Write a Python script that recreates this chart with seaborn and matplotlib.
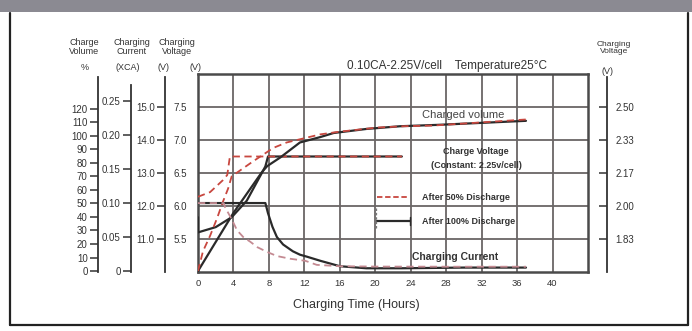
import matplotlib
matplotlib.use("Agg")
import matplotlib.pyplot as plt
import seaborn as sns
from matplotlib.patches import Rectangle
from matplotlib.lines import Line2D

# ---------------- data ----------------
hour_ticks = [0, 4, 8, 12, 16, 20, 24, 28, 32, 36, 40]
volume_ticks = [0, 10, 20, 30, 40, 50, 60, 70, 80, 90, 100, 110, 120]
current_ticks = [0, 0.05, 0.10, 0.15, 0.20, 0.25]
current_labels = ["0", "0.05", "0.10", "0.15", "0.20", "0.25"]
v12_ticks = [11.0, 12.0, 13.0, 14.0, 15.0]
v6_ticks = [5.5, 6.0, 6.5, 7.0, 7.5]
vcell_labels = ["1.83", "2.00", "2.17", "2.33", "2.50"]

# charged volume (%)
q100_t = [0, 4, 7.2, 7.8, 9.3, 11.5, 13.8, 15.3, 19, 22.8, 27, 32, 37]
q100 = [0, 43, 73, 77.5, 84, 95, 99, 102, 105, 107, 108, 109.5, 111]
q50_t = [0, 0.56, 1.36, 2.15, 2.8, 3.4, 3.8, 6.2, 8.5, 10, 13.8, 16, 20.2, 23.2, 26.5, 37]
q50 = [0, 14.6, 26, 39, 51, 61, 70, 81, 91, 95, 101, 103, 106, 107, 107.5, 112]

# charging voltage (V, 6V battery)
v100_t = [0, 0, 2, 3.8, 5.5, 7.2, 7.6, 7.9, 23]
v100 = [5.83, 5.6, 5.68, 5.83, 6.08, 6.5, 6.6, 6.75, 6.75]
v50_t = [0, 1.36, 2.8, 3.3, 3.6, 23]
v50 = [6.14, 6.21, 6.39, 6.47, 6.75, 6.75]

# charging current (CA)
i100_t = [0, 7.6, 7.9, 8.4, 8.9, 9.6, 10.7, 11.5, 12.3, 13.8, 16, 19, 23, 30, 37]
i100 = [0.1, 0.1, 0.085, 0.065, 0.050, 0.039, 0.029, 0.024, 0.021, 0.015, 0.007, 0.004, 0.004, 0.005, 0.005]
i50_t = [0, 2.9, 3.05, 3.85, 4.4, 5.1, 5.9, 6.7, 7.8, 8.9, 10.4, 12.1, 13.4, 16, 20, 28, 37]
i50 = [0.1, 0.1, 0.094, 0.075, 0.060, 0.050, 0.043, 0.035, 0.028, 0.022, 0.018, 0.015, 0.009, 0.007, 0.0065, 0.0063, 0.0063]

# ---------------- figure ----------------
W, H = 692, 331
sns.set_theme(style="white")
plt.rcParams["font.family"] = ["Liberation Sans", "DejaVu Sans"]
fig = plt.figure(figsize=(W / 100, H / 100), dpi=100, facecolor="white")


def fx(px):
    return px / W


def fy(py):
    return 1 - py / H


TXT = "#333333"
GRID = "#6a6666"
BLACK = "#2a2a2a"
RED = "#c8473f"
PINK = "#c48a92"

# frame decoration
fig.patches.append(Rectangle((0, fy(12)), 1, 12 / H, transform=fig.transFigure,
                             facecolor="#8b8a92", edgecolor="none", zorder=0))
for xs, ys in [([10, 10], [13, 325]), ([10, 688], [325, 325]), ([688, 688], [13, 325])]:
    fig.add_artist(Line2D([fx(x) for x in xs], [fy(y) for y in ys],
                          transform=fig.transFigure, color="#222222", lw=1.6))

# main axes (6 V scale)
L, R, T, B = 198, 588, 74, 272
ax = fig.add_axes([fx(L), fy(B), (R - L) / W, (B - T) / H])
ax.set_xlim(0, 44)
ax.set_ylim(5.0, 8.0)
ax.set_xticks(hour_ticks)
ax.set_xticklabels([str(h) for h in hour_ticks])
ax.set_yticks(v6_ticks)
ax.set_yticklabels([f"{v:.1f}" for v in v6_ticks])
ax.tick_params(axis="x", length=0, pad=5, labelsize=6.8, colors=TXT)
ax.tick_params(axis="y", length=0, pad=8, labelsize=7, colors=TXT)
ax.grid(True, color=GRID, lw=1.3)
for s in ax.spines.values():
    s.set_color("#4a4a4a")
    s.set_linewidth(1.8)
ax.set_facecolor("white")

# hidden twin axes for volume and current
ax_q = ax.twinx()
ax_q.set_ylim(-0.7, 145.6)
ax_i = ax.twinx()
ax_i.set_ylim(-0.0015, 0.29)
for a in (ax_q, ax_i):
    a.set_yticks([])
    for s in a.spines.values():
        s.set_visible(False)

# curves
sns.lineplot(x=v50_t, y=v50, ax=ax, color=RED, lw=1.3, linestyle=(0, (4, 2.5)),
             estimator=None, sort=False, zorder=4)
sns.lineplot(x=v100_t, y=v100, ax=ax, color=BLACK, lw=1.6,
             estimator=None, sort=False, zorder=3)
sns.lineplot(x=q100_t, y=q100, ax=ax_q, color=BLACK, lw=1.6,
             estimator=None, sort=False, zorder=3)
sns.lineplot(x=q50_t, y=q50, ax=ax_q, color=RED, lw=1.3, linestyle=(0, (4, 2.5)),
             estimator=None, sort=False, zorder=4)
sns.lineplot(x=i100_t, y=i100, ax=ax_i, color=BLACK, lw=1.6,
             estimator=None, sort=False, zorder=3)
sns.lineplot(x=i50_t, y=i50, ax=ax_i, color=PINK, lw=1.3, linestyle=(0, (4, 2.5)),
             estimator=None, sort=False, zorder=4)
ax.set_xlim(0, 44)
ax.set_ylim(5.0, 8.0)


def side_axis(xpx, ylim, ticks, labels, bounds, side="left"):
    a = fig.add_axes([fx(xpx), fy(B), 0.0001, (B - T) / H])
    a.set_ylim(*ylim)
    a.patch.set_visible(False)
    a.xaxis.set_visible(False)
    for k, s in a.spines.items():
        s.set_visible(k == side)
    a.spines[side].set_color("#333333")
    a.spines[side].set_linewidth(1.3)
    a.spines[side].set_bounds(*bounds)
    a.set_yticks(ticks)
    a.set_yticklabels(labels)
    if side == "left":
        a.tick_params(axis="y", direction="out", length=6, width=1.1, pad=1.5,
                      labelsize=7, colors=TXT, left=True, right=False)
    else:
        a.yaxis.tick_right()
        a.tick_params(axis="y", direction="in", length=6, width=1.1, pad=6,
                      labelsize=7, colors=TXT, left=False, right=True)
    return a


side_axis(98, (-0.7, 145.6), volume_ticks, [str(v) for v in volume_ticks], (-0.7, 143.4))
side_axis(131, (-0.0015, 0.29), current_ticks, current_labels, (-0.0015, 0.2735))
side_axis(165, (10, 16), v12_ticks, [f"{v:.1f}" for v in v12_ticks], (10, 15.9))
side_axis(607, (5 / 3, 8 / 3), [v / 3 for v in v6_ticks], vcell_labels, (5 / 3, 2.652), side="right")


def ftext(px, py, s, size=6.5, ha="center", weight="normal", color=TXT, **kw):
    fig.text(fx(px), fy(py), s, ha=ha, va="center", fontsize=size,
             fontweight=weight, color=color, **kw)


# headers
ftext(84, 47, "Charge\nVolume", linespacing=1.05)
ftext(132, 47, "Charging\nCurrent", linespacing=1.05)
ftext(177, 47, "Charging\nVoltage", linespacing=1.05)
ftext(85, 68, "%")
ftext(128, 68, "(XCA)")
ftext(163, 68, "(V)")
ftext(195, 68, "(V)")
ftext(614, 48, "Charging\nVoltage", size=6, linespacing=1.05)
ftext(607, 71, "(V)")

ftext(347, 66, "0.10CA-2.25V/cell    Temperature25°C", size=8.5, ha="left")
ftext(356, 305, "Charging Time (Hours)", size=9)

# in-plot annotations
ftext(463, 115, "Charged volume", size=8, color="#444444")
ftext(476, 151, "Charge Voltage", size=6.5, weight="bold")
ftext(476, 165, "(Constant: 2.25v/cell)", size=6.5, weight="bold")
ftext(422, 197, "After 50% Discharge", size=6.5, ha="left", weight="bold")
ftext(422, 222, "After 100% Discharge", size=6.5, ha="left", weight="bold")
ftext(412, 257, "Charging Current", size=7.5, ha="left", weight="bold")

# legend keys
fig.add_artist(Line2D([fx(377), fx(407)], [fy(197), fy(197)], transform=fig.transFigure,
                      color=RED, lw=1.3, linestyle=(0, (3, 1.5))))
fig.add_artist(Line2D([fx(377), fx(410)], [fy(221), fy(221)], transform=fig.transFigure,
                      color=BLACK, lw=1.6))
fig.add_artist(Line2D([fx(410), fx(410)], [fy(217), fy(225)], transform=fig.transFigure,
                      color=BLACK, lw=1.0))
fig.add_artist(Line2D([fx(376), fx(376)], [fy(208), fy(229)], transform=fig.transFigure,
                      color="#777777", lw=0.9, linestyle=(0, (2, 1.5))))

fig.savefig("out.png", dpi=100, facecolor="white")
